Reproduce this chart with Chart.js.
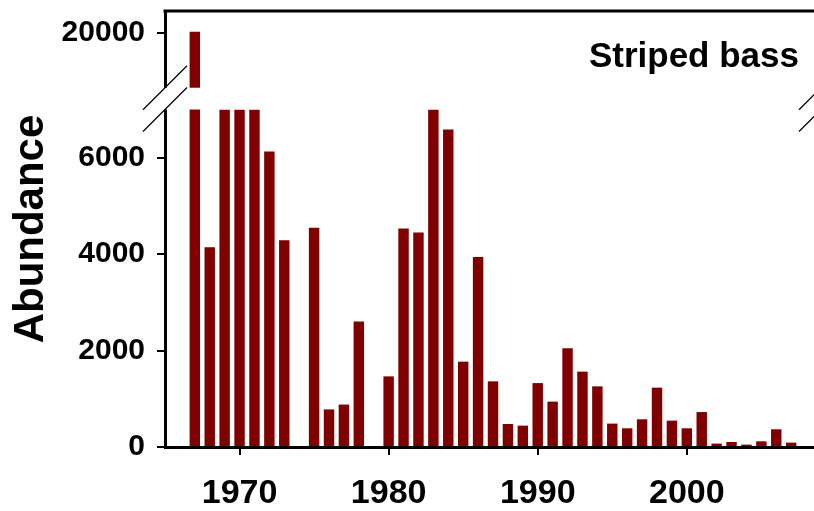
<!DOCTYPE html>
<html>
<head>
<meta charset="utf-8">
<title>Striped bass abundance</title>
<script src="https://cdn.jsdelivr.net/npm/chart.js@4.4.1/dist/chart.umd.min.js"></script>
<style>
  html, body { margin: 0; padding: 0; background: #fff; overflow: hidden; width: 814px; height: 511px; }
  canvas { display: block; }
</style>
</head>
<body>
<canvas id="chart" width="840" height="511"></canvas>
<script>
// Annual abundance index of striped bass (no survey value in 1974 and 1979)
const YEARS = [
  1967, 1968, 1969, 1970, 1971, 1972, 1973, 1975, 1976, 1977,
  1978, 1980, 1981, 1982, 1983, 1984, 1985, 1986, 1987, 1988,
  1989, 1990, 1991, 1992, 1993, 1994, 1995, 1996, 1997, 1998,
  1999, 2000, 2001, 2002, 2003, 2004, 2005, 2006, 2007
];
const ABUNDANCE = [
  20030, 4145, 9000, 10000, 9000, 6130, 4290, 4550, 780, 880,
  2605, 1465, 4530, 4450, 8000, 6585, 1770, 3940, 1362, 477,
  443, 1326, 941, 2046, 1563, 1258, 485, 388, 574, 1231,
  547, 388, 725, 70, 104, 50, 118, 367, 91
];
const Y_TICKS = [0, 2000, 4000, 6000, 20000];
const X_TICKS = [1970, 1980, 1990, 2000];
const SPECIES = 'Striped bass';
const Y_TITLE = 'Abundance';

// Broken value axis: a lower segment 0..LOW_MAX and an upper segment HIGH_MIN..HIGH_MAX
const LOW_MAX = 7000;
const HIGH_MIN = 18870;
const HIGH_MAX = 20460;
const LOW_SHARE = 0.774;   // part of the axis height used by the lower segment
const GAP_SHARE = 0.05;    // part of the axis height left blank between the segments

const FONT = '"Liberation Sans", Arial, Helvetica, sans-serif';
const BAR_COLOR = '#800000';

class BrokenLinearScale extends Chart.LinearScale {
  determineDataLimits() {
    this.min = 0;
    this.max = HIGH_MAX;
  }
  buildTicks() {
    return Y_TICKS.map(v => ({ value: v }));
  }
  _bounds() {
    const h = this.bottom - this.top;
    const lowTop = this.bottom - h * LOW_SHARE;
    const highBottom = lowTop - h * GAP_SHARE;
    return { lowTop, highBottom };
  }
  getPixelForValue(value) {
    const { lowTop, highBottom } = this._bounds();
    if (value <= LOW_MAX) {
      return this.bottom - (value / LOW_MAX) * (this.bottom - lowTop);
    }
    if (value < HIGH_MIN) {
      return lowTop;
    }
    return highBottom - (value - HIGH_MIN) / (HIGH_MAX - HIGH_MIN) * (highBottom - this.top);
  }
  getValueForPixel(pixel) {
    const { lowTop, highBottom } = this._bounds();
    if (pixel >= lowTop) {
      return (this.bottom - pixel) / (this.bottom - lowTop) * LOW_MAX;
    }
    if (pixel > highBottom) {
      return LOW_MAX;
    }
    return HIGH_MIN + (highBottom - pixel) / (highBottom - this.top) * (HIGH_MAX - HIGH_MIN);
  }
}
BrokenLinearScale.id = 'brokenLinear';
BrokenLinearScale.defaults = Chart.LinearScale.defaults;
Chart.register(BrokenLinearScale);

// Blanks the gap between the axis segments, draws the break marks, frame and species label
const axisBreak = {
  id: 'axisBreak',
  afterDatasetsDraw(chart) {
    const { ctx, chartArea: a, scales: { y } } = chart;
    const yLow = y.getPixelForValue(LOW_MAX);
    const yHigh = y.getPixelForValue(HIGH_MIN);
    ctx.save();
    ctx.fillStyle = '#fff';
    ctx.fillRect(a.left - 4, yHigh, a.right - a.left + 8, yLow - yHigh);

    ctx.strokeStyle = '#000';
    ctx.lineWidth = 3;
    ctx.beginPath();
    ctx.moveTo(a.left - 1.5, a.top);
    ctx.lineTo(a.right + 1.5, a.top);
    ctx.moveTo(a.right, a.top);
    ctx.lineTo(a.right, yHigh);
    ctx.moveTo(a.right, yLow);
    ctx.lineTo(a.right, a.bottom);
    ctx.stroke();

    ctx.lineWidth = 1.2;
    ctx.beginPath();
    for (const x of [a.left, a.right]) {
      for (const yy of [yHigh, yLow]) {
        ctx.moveTo(x - 22, yy + 22);
        ctx.lineTo(x + 22, yy - 22);
      }
    }
    ctx.stroke();

    ctx.fillStyle = '#000';
    ctx.font = 'bold 35px ' + FONT;
    ctx.textAlign = 'right';
    ctx.textBaseline = 'alphabetic';
    ctx.fillText(SPECIES, a.right - 22, a.top + 56);
    ctx.restore();
  }
};

const points = YEARS.map((year, i) => ({ x: year, y: ABUNDANCE[i] }));

const noPadding = scale => {
  scale.paddingTop = 0;
  scale.paddingBottom = 0;
  scale.paddingLeft = 0;
  scale.paddingRight = 0;
};

new Chart(document.getElementById('chart'), {
  type: 'bar',
  data: {
    datasets: [{
      label: SPECIES,
      data: points,
      backgroundColor: BAR_COLOR,
      borderWidth: 0,
      categoryPercentage: 1.0,
      barPercentage: 0.7
    }]
  },
  options: {
    responsive: false,
    animation: false,
    devicePixelRatio: 1,
    layout: { padding: { top: 11, right: 19, left: 0, bottom: 0 } },
    plugins: {
      legend: { display: false },
      tooltip: { enabled: false },
      title: { display: false }
    },
    scales: {
      x: {
        type: 'linear',
        min: 1965,
        max: 2009,
        offset: false,
        afterBuildTicks: axis => { axis.ticks = X_TICKS.map(v => ({ value: v })); },
        afterFit: scale => { scale.height = 64; noPadding(scale); },
        grid: { offset: false, drawOnChartArea: false, drawTicks: true, tickLength: 8, color: '#000', lineWidth: 2 },
        border: { display: true, color: '#000', width: 3 },
        ticks: {
          autoSkip: false,
          maxRotation: 0,
          padding: 18,
          color: '#000',
          font: { family: FONT, size: 34, weight: 'bold' },
          callback: v => String(v)
        }
      },
      y: {
        type: 'brokenLinear',
        afterFit: scale => { scale.width = 165; noPadding(scale); },
        grid: { drawOnChartArea: false, drawTicks: true, tickLength: 8, color: '#000', lineWidth: 2 },
        border: { display: true, color: '#000', width: 3 },
        ticks: {
          autoSkip: false,
          padding: 12,
          color: '#000',
          font: { family: FONT, size: 30, weight: 'bold' },
          callback: v => String(v)
        },
        title: {
          display: true,
          text: Y_TITLE,
          color: '#000',
          padding: { top: 6, bottom: 0 },
          font: { family: FONT, size: 42, weight: 'bold' }
        }
      }
    }
  },
  plugins: [axisBreak]
});
</script>
</body>
</html>
